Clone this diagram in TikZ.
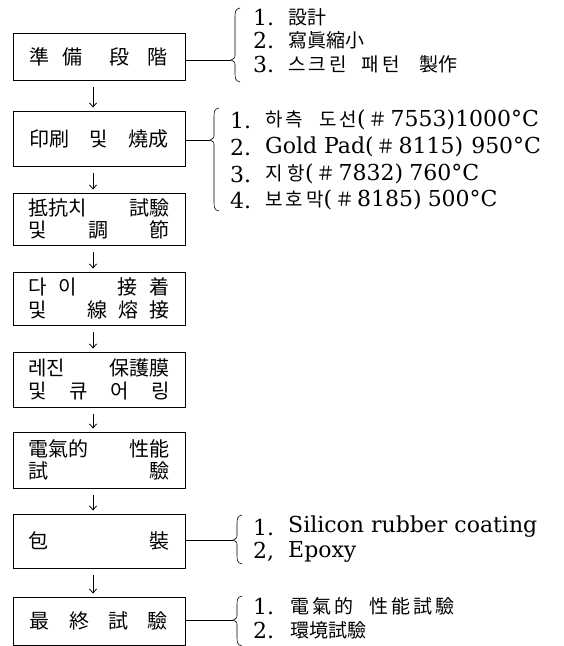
\documentclass[tikz,border=0pt]{standalone}
\usepackage{fontspec}
\setmainfont{DejaVu Serif}
\newfontfamily\kr{Noto Sans CJK KR}
\usetikzlibrary{arrows.meta}
\newcommand\curlybrace[4]{%
  \draw[curly] ({#1+9},#2) .. controls ({#1+4},{#2+1}) and ({#1+4},{#2+4}) .. ({#1+4},{#2+10})
    -- ({#1+4},{#3-6}) .. controls ({#1+4},{#3-2}) .. (#1,#3)
    .. controls ({#1+4},{#3+2}) .. ({#1+4},{#3+6})
    -- ({#1+4},{#4-10}) .. controls ({#1+4},{#4-4}) and ({#1+4},{#4-1}) .. ({#1+9},#4);}
\newcommand\krs{\kr\fontsize{19}{22}\selectfont}
\newcommand\hs{\hspace{3pt}}
\begin{document}
\begin{tikzpicture}[x=1pt,y=-1pt,
  stage/.style={draw, line width=0.9pt, minimum width=172pt, inner sep=0pt,
    font=\kr\fontsize{20}{22.5}\selectfont, align=center},
  num/.style={anchor=west, inner sep=0pt, font=\fontsize{22}{26}\selectfont},
  item/.style={anchor=west, inner sep=0pt, font=\fontsize{22}{26}\selectfont},
  kritem/.style={anchor=west, inner sep=0pt, font=\krs},
  link/.style={line width=0.8pt},
  thinlink/.style={line width=0.5pt},
  flow/.style={line width=0.8pt, -{Straight Barb[length=4pt,width=7pt]}},
  curly/.style={line width=0.6pt}]
\useasboundingbox (0,0) rectangle (563,646);
\fill[white] (0,0) rectangle (563,646);

% stages
\node[stage, minimum height=47pt] (b1) at (99,56.5)
  {\makebox[138pt]{準\hspace{13pt}備\hfill 段\hspace{18pt}階}};
\node[stage, minimum height=55pt] (b2) at (99,138.5)
  {\makebox[139pt]{印刷\hfill 및\hfill 燒成}};
\node[stage, minimum height=52pt] (b3) at (99,219)
  {\makebox[141pt]{抵抗치\hfill 試驗}\\\makebox[141pt]{및\hfill 調\hfill 節}};
\node[stage, minimum height=53pt] (b4) at (99,298.5)
  {\makebox[141pt]{다\hspace{12pt}이\hfill 接\hspace{12pt}着}\\\makebox[141pt]{및\hfill 線\hspace{11pt}熔\hspace{11pt}接}};
\node[stage, minimum height=55pt] (b5) at (99,379.5)
  {\makebox[141pt]{레진\hfill 保護膜}\\\makebox[141pt]{및\hfill 큐\hfill 어\hfill 링}};
\node[stage, minimum height=56pt] (b6) at (99,460)
  {\makebox[141pt]{電氣的\hfill 性能}\\\makebox[141pt]{試\hfill 驗}};
\node[stage, minimum height=54pt] (b7) at (99,541)
  {\makebox[141pt]{包\hfill 裝}};
\node[stage, minimum height=48pt] (b8) at (99,621)
  {\makebox[138pt]{最\hfill 終\hfill 試\hfill 驗}};

% flow arrows
\coordinate (ax) at (93,0);
\foreach \a/\b in {b1/b2,b2/b3,b3/b4,b4/b5,b5/b6,b6/b7,b7/b8}
  \draw[flow, shorten <=7pt, shorten >=3pt] (\a.south -| ax) -- (\b.north -| ax);

% group 1
\coordinate (k1) at (231,60);
\draw[link] (b1.east |- k1) -- (k1);
\curlybrace{231}{8}{60}{82}
\node[num] (g1n1) at (253,17) {1.};
\node[kritem] (g1t1) at (288,17) {設計};
\node[num] (g1n2) at (253,40) {2.};
\node[kritem] (g1t2) at (288,40) {寫眞縮小};
\node[num] (g1n3) at (253,64) {3.};
\node[kritem] (g1t3) at (288,64) {스\hs 크\hs 린\hspace{15pt}패\hs 턴\hspace{20pt}製作};

% group 2
\coordinate (k2) at (210,140);
\draw[thinlink] (b2.east |- k2) -- (k2);
\curlybrace{210}{108}{140}{211}
\node[num] (g2n1) at (230,120) {1.};
\node[item] (g2t1) at (265,120) {{\krs 하\hs 측\hspace{16pt}도\hs 선}(\hs{\krs ＃}\hs 7553)1000°C};
\node[num] (g2n2) at (230,147) {2.};
\node[item] (g2t2) at (265,147) {Gold Pad(\hs{\krs ＃}\hs 8115)\hspace{8pt}950°C};
\node[num] (g2n3) at (230,174) {3.};
\node[item] (g2t3) at (265,174) {{\krs 지\hspace{5pt}항}(\hs{\krs ＃}\hs 7832)\hspace{6pt}760°C};
\node[num] (g2n4) at (230,200) {4.};
\node[item] (g2t4) at (265,200) {{\krs 보\hs 호\hs 막}(\hs{\krs ＃}\hs 8185)\hspace{6pt}500°C};

% group 3
\coordinate (k3) at (233,540);
\draw[link] (b7.east |- k3) -- (k3);
\curlybrace{233}{515}{540}{564}
\node[num] (g3n1) at (253,527) {1.};
\node[item] (g3t1) at (288,527) {Silicon rubber coating};
\node[num] (g3n2) at (253,552) {2,};
\node[item] (g3t2) at (288,552) {Epoxy};

% group 4
\coordinate (k4) at (233,620);
\draw[link] (b8.east |- k4) -- (k4);
\curlybrace{233}{596}{620}{646}
\node[num] (g4n1) at (253,606) {1.};
\node[kritem] (g4t1) at (290,606) {電\hs 氣\hs 的\hspace{16pt}性\hs 能\hs 試\hs 驗};
\node[num] (g4n2) at (253,630) {2.};
\node[kritem] (g4t2) at (290,630) {環境試驗};
\end{tikzpicture}
\end{document}
